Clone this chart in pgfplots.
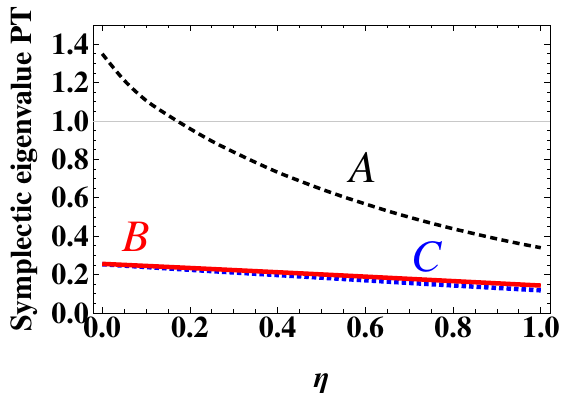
\documentclass[border=0pt]{standalone}
\usepackage{fontspec}
\setmainfont{TeX Gyre Termes}
\usepackage{pgfplots}
\pgfplotsset{compat=1.18}
\newcommand{\tickfont}{\fontsize{30bp}{36bp}\selectfont\bfseries}
\newcommand{\curvefont}{\fontsize{45bp}{54bp}\selectfont\itshape}
\begin{document}
\begin{tikzpicture}
\useasboundingbox (0,0) rectangle (565bp,403bp);
\begin{axis}[
  at={(93bp,90bp)}, anchor=south west,
  width=457bp, height=288bp, scale only axis,
  xmin=-0.021, xmax=1.021, ymin=0, ymax=1.5,
  xtick={0,0.2,0.4,0.6,0.8,1.0},
  ytick={0,0.2,0.4,0.6,0.8,1.0,1.2,1.4},
  minor tick num=3,
  tick align=inside,
  major tick length=6bp, minor tick length=3.5bp,
  tick style={black, line width=0.8bp},
  axis line style={line width=0.9bp},
  /pgf/number format/.cd, fixed, fixed zerofill, precision=1, assume math mode=true,
  /pgfplots/.cd,
  tick label style={font=\tickfont},
  yticklabel style={inner xsep=4bp},
  xlabel={\textbf{\textit{η}}},
  xlabel style={at={(axis description cs:0.5,-0.26)}, anchor=base, inner sep=0pt, font=\tickfont},
  ylabel={Symplectic eigenvalue PT},
  ylabel style={at={(axis description cs:-0.1335,0.5)}, anchor=base, inner sep=0pt, font=\tickfont},
]
% reference line at 1
\addplot[color={rgb,255:red,200;green,200;blue,200}, line width=0.8bp] coordinates {(-0.021,1) (1.021,1)};
% curve C
\addplot[color={rgb,255:red,0;green,0;blue,255}, line width=4.5bp, dash pattern=on 4.5bp off 3bp, smooth] coordinates {
  (0,0.254) (0.25,0.218) (0.5,0.184) (0.75,0.150) (1,0.118)
};
% curve B
\addplot[color={rgb,255:red,255;green,0;blue,0}, line width=4.5bp, smooth] coordinates {
  (0,0.256) (0.25,0.229) (0.5,0.201) (0.75,0.172) (1,0.143)
};
% curve A
\addplot[black, line width=3.5bp, dash pattern=on 7bp off 4.5bp, smooth] coordinates {
  (0,1.350) (0.05,1.212) (0.1,1.107) (0.15,1.030) (0.2,0.960)
  (0.25,0.895) (0.3,0.838) (0.35,0.784) (0.4,0.733) (0.45,0.688)
  (0.5,0.645) (0.55,0.605) (0.6,0.568) (0.65,0.532) (0.7,0.499)
  (0.75,0.468) (0.8,0.439) (0.85,0.412) (0.9,0.386) (0.95,0.362)
  (1.0,0.340)
};
\node[font=\curvefont, black] at (axis cs:0.595,0.756) {A};
\node[font=\curvefont, color={rgb,255:red,255;green,0;blue,0}] at (axis cs:0.077,0.397) {B};
\node[font=\curvefont, color={rgb,255:red,0;green,0;blue,255}] at (axis cs:0.740,0.293) {C};
\end{axis}
\end{tikzpicture}
\end{document}
